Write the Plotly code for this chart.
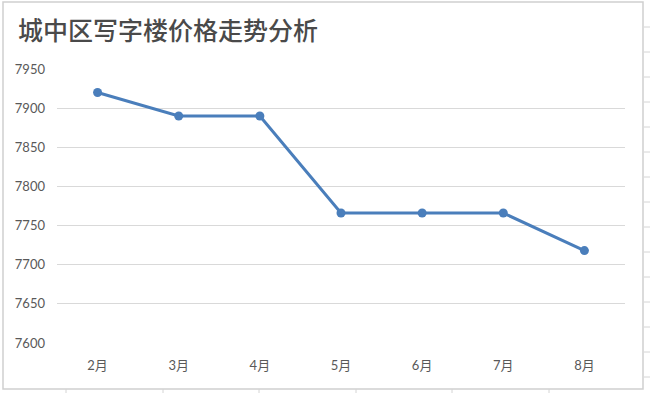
import plotly.graph_objects as go

months = ["2月", "3月", "4月", "5月", "6月", "7月", "8月"]
prices = [7920, 7890, 7890, 7766, 7766, 7766, 7718]
y_ticks = [7600, 7650, 7700, 7750, 7800, 7850, 7900, 7950]
title_text = "城中区写字楼价格走势分析"

W, H = 650, 393
L, R, T, B = 57, 25, 69, 50

fig = go.Figure()
fig.add_trace(go.Scatter(
    x=months, y=prices, mode="lines+markers",
    line=dict(color="#4A7EBB", width=3),
    marker=dict(color="#4A7EBB", size=9),
    showlegend=False, cliponaxis=False,
))

PW, PH = W - L - R, H - T - B


def px(xv):
    return (xv - L) / PW


def py(yv):
    return (H - B - yv) / PH


shapes = []
# Excel sheet cell gridlines outside the chart area
for xv in [66, 163, 259, 356, 452, 549]:
    shapes.append(dict(type="line", xref="paper", yref="paper",
                       x0=px(xv), x1=px(xv), y0=py(389), y1=py(393),
                       line=dict(color="#D4D4D4", width=1)))
for yv in [27, 52, 77, 102, 127, 152, 177, 202, 227, 252, 277, 302, 327, 352, 377]:
    shapes.append(dict(type="line", xref="paper", yref="paper",
                       x0=px(644), x1=px(650), y0=py(yv), y1=py(yv),
                       line=dict(color="#D4D4D4", width=1)))
# chart area border
shapes.append(dict(type="rect", xref="paper", yref="paper",
                   x0=px(3), x1=px(643), y0=py(389), y1=py(2),
                   line=dict(color="#D0D0D0", width=1.5), layer="below"))

fig.update_layout(
    width=W, height=H,
    margin=dict(l=L, r=R, t=T, b=B),
    paper_bgcolor="white", plot_bgcolor="white",
    font=dict(family="Lato, 'Noto Sans CJK SC', sans-serif", color="#595959", size=12),
    title=dict(text=title_text, x=18 / W, xanchor="left", y=1 - 31 / H, yanchor="middle",
               font=dict(family="'Noto Sans CJK SC', sans-serif", size=25, color="#4A4A4A",
                         weight=500)),
    xaxis=dict(showgrid=False, showline=False, zeroline=False, ticks="",
               tickfont=dict(size=13, family="Lato, 'Noto Sans CJK SC', sans-serif"),
               range=[-0.5, 6.5], fixedrange=True, ticklabelstandoff=13),
    yaxis=dict(range=[7600, 7950], tickvals=y_ticks, showgrid=True,
               gridcolor="#D9D9D9", gridwidth=1.3, zeroline=False, showline=False,
               ticks="", ticklabelstandoff=11, fixedrange=True,
               tickfont=dict(size=13, family="Lato, sans-serif")),
    shapes=shapes,
)

fig.write_html("out.html", config={"displayModeBar": False},
               post_script="document.body.style.margin='0';")
